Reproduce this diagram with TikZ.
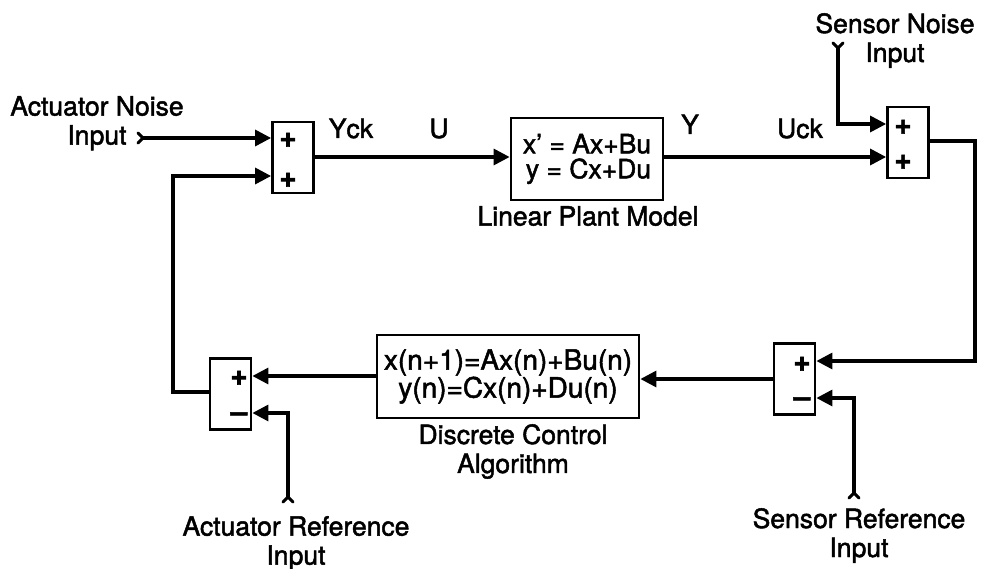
\documentclass[tikz,border=0pt]{standalone}
\usepackage{fontspec}
\setmainfont{TeX Gyre Heros}[FakeBold=1.8]
\usetikzlibrary{arrows.meta}
\begin{document}
\begin{tikzpicture}[x=1pt,y=-1pt,
  sig/.style={line width=3.2pt, -{Triangle[length=16pt,width=16pt]}},
  blk/.style={draw, line width=2.8pt, inner sep=0pt},
  sumblk/.style={blk, minimum width=41pt, minimum height=71pt},
  txt/.style={font=\fontsize{26.5}{29}\selectfont, inner sep=0pt},
  lbl/.style={txt, anchor=base},
  sgn/.style={font=\fontsize{30}{30}\selectfont\bfseries, inner sep=0pt},
  tail/.style={line width=3pt, line join=round, line cap=round}
]
\useasboundingbox (0,0) rectangle (981,569);

% summing blocks
\node[sumblk] (s1) at (293,157.5) {};
\node[sumblk] (s2) at (908,142.5) {};
\node[sumblk] (s3) at (230.5,394) {};
\node[sumblk] (s4) at (794.5,379) {};

% signs
\node[sgn] (s1a) at (288,140) {+};
\node[sgn] (s1b) at (288,180) {+};
\node[sgn] (s2a) at (903,127) {+};
\node[sgn] (s2b) at (903,162) {+};
\node[sgn] (s3a) at (239,378) {+};
\node[sgn] (s3b) at (239,417) {\textendash};
\node[sgn] (s4a) at (802,364) {+};
\node[sgn] (s4b) at (802,402) {\textendash};

% plant and controller
\node[blk, minimum width=152pt, minimum height=82pt, txt, align=right,
      font=\fontsize{26.5}{25}\selectfont] (plant) at (587,159) {x' = Ax+Bu\\y = Cx+Du};
\node[blk, minimum width=262pt, minimum height=83pt, txt, align=center,
      font=\fontsize{28}{26}\selectfont] (ctrl) at (508,376.5) {x(n+1)=Ax(n)+Bu(n)\\y(n)=Cx(n)+Du(n)};

% captions
\node[txt, align=center, anchor=north] (cplant) at (588,206) {Linear Plant Model};
\node[txt, align=center, anchor=north] (cctrl) at (513,424) {Discrete Control\\Algorithm};
\node[txt, align=center, anchor=north] (an) at (97,96) {Actuator Noise\\Input};
\node[txt, align=center, anchor=north] (sn) at (895,13) {Sensor Noise\\Input};
\node[txt, align=center, anchor=north] (ar) at (296,516) {Actuator Reference\\Input};
\node[txt, align=center, anchor=north] (sr) at (859,508) {Sensor Reference\\Input};

% signal labels
\node[lbl] (lyck) at (351,138) {Yck};
\node[lbl] (lu) at (439,138) {U};
\node[lbl] (ly) at (690,134) {Y};
\node[lbl] (luck) at (800,138) {Uck};

% port coordinates
\coordinate (anp) at (143,138);
\coordinate (snp) at (838,48);
\coordinate (arp) at (288,497);
\coordinate (srp) at (854,493);

% input tails
\draw[tail] (138,133) -- (143,138) -- (138,143);
\draw[tail] (833,43) -- (838,48) -- (843,43);
\draw[tail] (283,502) -- (288,497) -- (293,502);
\draw[tail] (849,498) -- (854,493) -- (859,498);

% connectors
\draw[sig] (anp) -- (s1.west |- anp);
\draw[sig] (s1.east |- 0,157) -- (plant.west |- 0,157);
\draw[sig] (plant.east |- 0,157) -- (s2.west |- 0,157);
\draw[sig] (snp) |- (s2.west |- 0,124);
\draw[sig] (s2.east |- 0,141) -| (975,361) -- (s4.east |- 0,361);
\draw[sig] (srp) |- (s4.east |- 0,398);
\draw[sig] (s4.west |- 0,379) -- (ctrl.east |- 0,379);
\draw[sig] (ctrl.west |- 0,376) -- (s3.east |- 0,376);
\draw[sig] (arp) |- (s3.east |- 0,413);
\draw[sig] (s3.west |- 0,392) -| (173,176) -- (s1.west |- 0,176);
\end{tikzpicture}
\end{document}
